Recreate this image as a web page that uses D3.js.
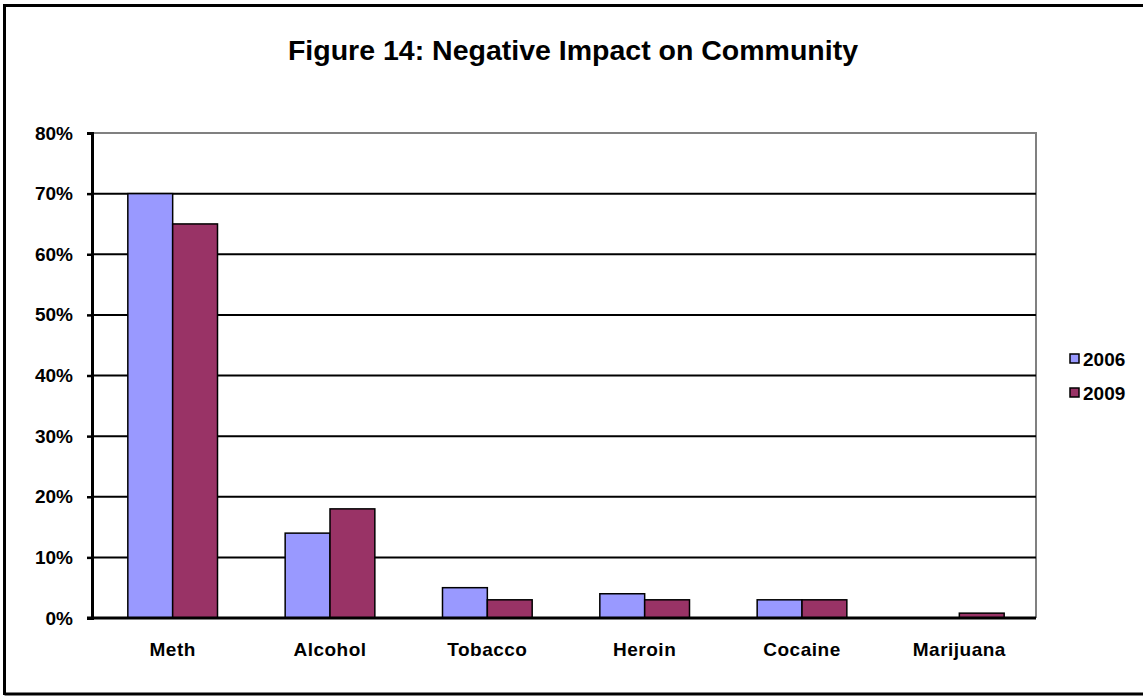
<!DOCTYPE html>
<html>
<head>
<meta charset="utf-8">
<script src="https://cdn.jsdelivr.net/npm/d3@7"></script>
<style>
  html, body { margin: 0; padding: 0; background: #fff; }
  svg { display: block; font-family: "Liberation Sans", Arial, sans-serif; font-weight: bold; }
</style>
</head>
<body>
<svg id="chart" width="1143" height="696"></svg>
<script>
// Share of respondents naming each drug as having a negative impact on the community
const categories = ["Meth", "Alcohol", "Tobacco", "Heroin", "Cocaine", "Marijuana"];
const seriesNames = ["2006", "2009"];
const values2006 = [0.70, 0.14, 0.05, 0.04, 0.03, 0.00];
const values2009 = [0.65, 0.18, 0.03, 0.03, 0.03, 0.008];
const yTicks = [0, 0.1, 0.2, 0.3, 0.4, 0.5, 0.6, 0.7, 0.8];
const colors = ["#9999FF", "#993366"];
const title = "Figure 14: Negative Impact on Community";

const svg = d3.select("#chart");

// outer frame (left, top, bottom edges)
svg.append("path")
  .attr("d", "M4.5,695 L4.5,5.5 L1143,5.5 M4.5,694 L1143,694")
  .attr("fill", "none").attr("stroke", "#000").attr("stroke-width", 3);

const plot = { left: 92, right: 1036, top: 133, bottom: 618 };

const x0 = d3.scaleBand().domain(categories)
  .range([plot.left + 2, plot.right + 2]).paddingInner(0.43).paddingOuter(0.215);
const x1 = d3.scaleBand().domain(seriesNames).range([0, x0.bandwidth()]);
const y = d3.scaleLinear().domain([0, 0.8]).range([plot.bottom, plot.top]);

// title
svg.append("text")
  .attr("x", 573).attr("y", 60)
  .attr("text-anchor", "middle")
  .attr("font-size", 28.5)
  .text(title);

// plot area border (grey, top and right)
svg.append("path")
  .attr("d", `M${plot.left},${y(0.8)} L${plot.right},${y(0.8)} L${plot.right},${plot.bottom}`)
  .attr("fill", "none").attr("stroke", "#808080").attr("stroke-width", 2);

// gridlines
svg.append("g").selectAll("line")
  .data(yTicks.filter(t => t > 0 && t < 0.8))
  .join("line")
  .attr("x1", plot.left).attr("x2", plot.right)
  .attr("y1", d => y(d)).attr("y2", d => y(d))
  .attr("stroke", "#000").attr("stroke-width", 2);

// y axis
const yAxis = d3.axisLeft(y).tickValues(yTicks)
  .tickFormat(d3.format(".0%")).tickSize(5).tickPadding(14);
const gy = svg.append("g").attr("transform", `translate(${plot.left},0)`).call(yAxis);
gy.select(".domain").attr("stroke", "#000").attr("stroke-width", 3);
gy.selectAll(".tick line").attr("stroke", "#000").attr("stroke-width", 2.5);
gy.selectAll(".tick text")
  .attr("font-size", 19).attr("font-weight", "bold").attr("fill", "#000")
  .attr("font-family", "Liberation Sans, Arial, sans-serif");

// bars
const rows = categories.map((c, i) => ({ cat: c, vals: [values2006[i], values2009[i]] }));
const groups = svg.append("g").selectAll("g")
  .data(rows).join("g")
  .attr("transform", d => `translate(${x0(d.cat)},0)`);
groups.selectAll("rect")
  .data(d => d.vals.map((v, k) => ({ v, k })).filter(e => e.v > 0))
  .join("rect")
  .attr("x", d => x1(seriesNames[d.k]))
  .attr("width", x1.bandwidth())
  .attr("y", d => y(d.v))
  .attr("height", d => y(0) - y(d.v))
  .attr("fill", d => colors[d.k])
  .attr("stroke", "#000").attr("stroke-width", 1.5);

// x axis baseline
svg.append("line")
  .attr("x1", plot.left - 5).attr("x2", plot.right)
  .attr("y1", y(0)).attr("y2", y(0))
  .attr("stroke", "#000").attr("stroke-width", 3);

// category labels
const xAxis = d3.axisBottom(x0).tickSize(0).tickPadding(25);
const gx = svg.append("g").attr("transform", `translate(0,${y(0)})`).call(xAxis);
gx.select(".domain").remove();
gx.selectAll(".tick text")
  .attr("font-size", 19).attr("font-weight", "bold").attr("fill", "#000")
  .attr("letter-spacing", 0.5)
  .attr("font-family", "Liberation Sans, Arial, sans-serif");

// legend
const legend = svg.append("g").selectAll("g")
  .data(seriesNames).join("g")
  .attr("transform", (d, i) => `translate(1070,${354 + i * 34})`);
legend.append("rect")
  .attr("width", 9).attr("height", 9)
  .attr("fill", (d, i) => colors[i])
  .attr("stroke", "#000").attr("stroke-width", 1.5);
legend.append("text")
  .attr("x", 13).attr("y", 11.5)
  .attr("font-size", 19)
  .text(d => d);
</script>
</body>
</html>
